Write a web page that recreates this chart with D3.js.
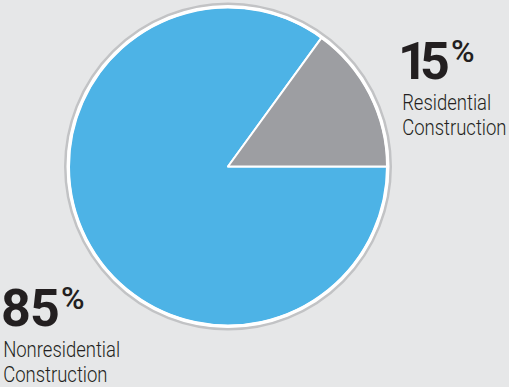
<!DOCTYPE html>
<html>
<head>
<meta charset="utf-8">
<script src="https://cdn.jsdelivr.net/npm/d3@7"></script>
<style>
  html, body { margin: 0; padding: 0; background: #e6e7e8; }
  svg { display: block; }
</style>
</head>
<body>
<script>
// Share of construction spending by sector
const categories = ["Nonresidential Construction", "Residential Construction"];
const shares = [85, 15];
const labelLines = [["Nonresidential", "Construction"], ["Residential", "Construction"]];
const colors = ["#4db3e6", "#9d9ea2"];

const W = 509, H = 387;
const cx = 228, cy = 166.5, r = 159;

const svg = d3.select("body").append("svg")
  .attr("width", W).attr("height", H);

svg.append("rect").attr("width", W).attr("height", H).attr("fill", "#e6e7e8");

const pie = d3.pie().sort(null).value(d => d)
  .startAngle(Math.PI / 2).endAngle(Math.PI / 2 + 2 * Math.PI);
const arc = d3.arc().innerRadius(0).outerRadius(r);

const g = svg.append("g").attr("transform", `translate(${cx},${cy})`);

// soft grey rim around the pie
g.append("circle").attr("r", r + 3.5)
  .attr("fill", "none").attr("stroke", "#c2c3c5").attr("stroke-width", 3);

g.selectAll("path.slice").data(pie(shares)).join("path")
  .attr("class", "slice")
  .attr("d", arc)
  .attr("fill", (d, i) => colors[i])
  .attr("stroke", "#ffffff").attr("stroke-width", 2).attr("stroke-linejoin", "round");

// white border ring
g.append("circle").attr("r", r + 1)
  .attr("fill", "none").attr("stroke", "#ffffff").attr("stroke-width", 3);

const ink = "#231f20";
const FONT = "Roboto";

// glyph metrics (advance and ink extents) from a canvas
const ctx = document.createElement("canvas").getContext("2d");
function metrics(text, size, weight) {
  ctx.font = `${weight} ${size}px ${FONT}`;
  const m = ctx.measureText(text);
  return { adv: m.width, left: m.actualBoundingBoxLeft, right: m.actualBoundingBoxRight };
}

// label blocks: big percentage with superscript sign, then two light lines
const blocks = [
  { i: 0, x: 3, numBase: 326, lineBase: 357 },
  { i: 1, x: 402, numBase: 79, lineBase: 110 }
];

const numSize = 52, pctSize = 32, inkGap = 3;
const lightSize = 21.2, lineStep = 25;
const cw = metrics("Construction", lightSize, 300);
const lightScale = 103 / (cw.left + cw.right);

blocks.forEach(b => {
  const grp = svg.append("g");
  const digits = String(shares[b.i]);

  // tighten the tabular figures so their ink sits a fixed gap apart
  const a = metrics(digits[0], numSize, 700);
  const c = metrics(digits[1], numSize, 700);
  const naturalGap = (a.adv - a.right) + (-c.left);
  const spacing = inkGap - naturalGap;
  grp.append("text")
    .attr("font-family", FONT).attr("font-size", numSize).attr("font-weight", 700)
    .attr("fill", ink)
    .attr("letter-spacing", spacing)
    .attr("x", b.x + a.left).attr("y", b.numBase)
    .text(digits);
  const inkRight = b.x + (a.left + a.right) + inkGap + (c.left + c.right);

  const pm = metrics("%", pctSize, 500);
  grp.append("text")
    .attr("font-family", FONT).attr("font-size", pctSize).attr("font-weight", 500)
    .attr("fill", ink)
    .attr("x", inkRight + inkGap + 1 + pm.left).attr("y", b.numBase - 17)
    .text("%");

  // two-line light caption, squeezed horizontally
  const cap = grp.append("text")
    .attr("font-family", FONT).attr("font-size", lightSize).attr("font-weight", 300)
    .attr("fill", ink)
    .attr("transform", `translate(${b.x + 1},${b.lineBase}) scale(${lightScale},1)`);
  labelLines[b.i].forEach((line, k) => {
    const lb = metrics(line, lightSize, 300);
    cap.append("tspan").attr("x", lb.left).attr("y", k * lineStep).text(line);
  });
});
</script>
</body>
</html>
